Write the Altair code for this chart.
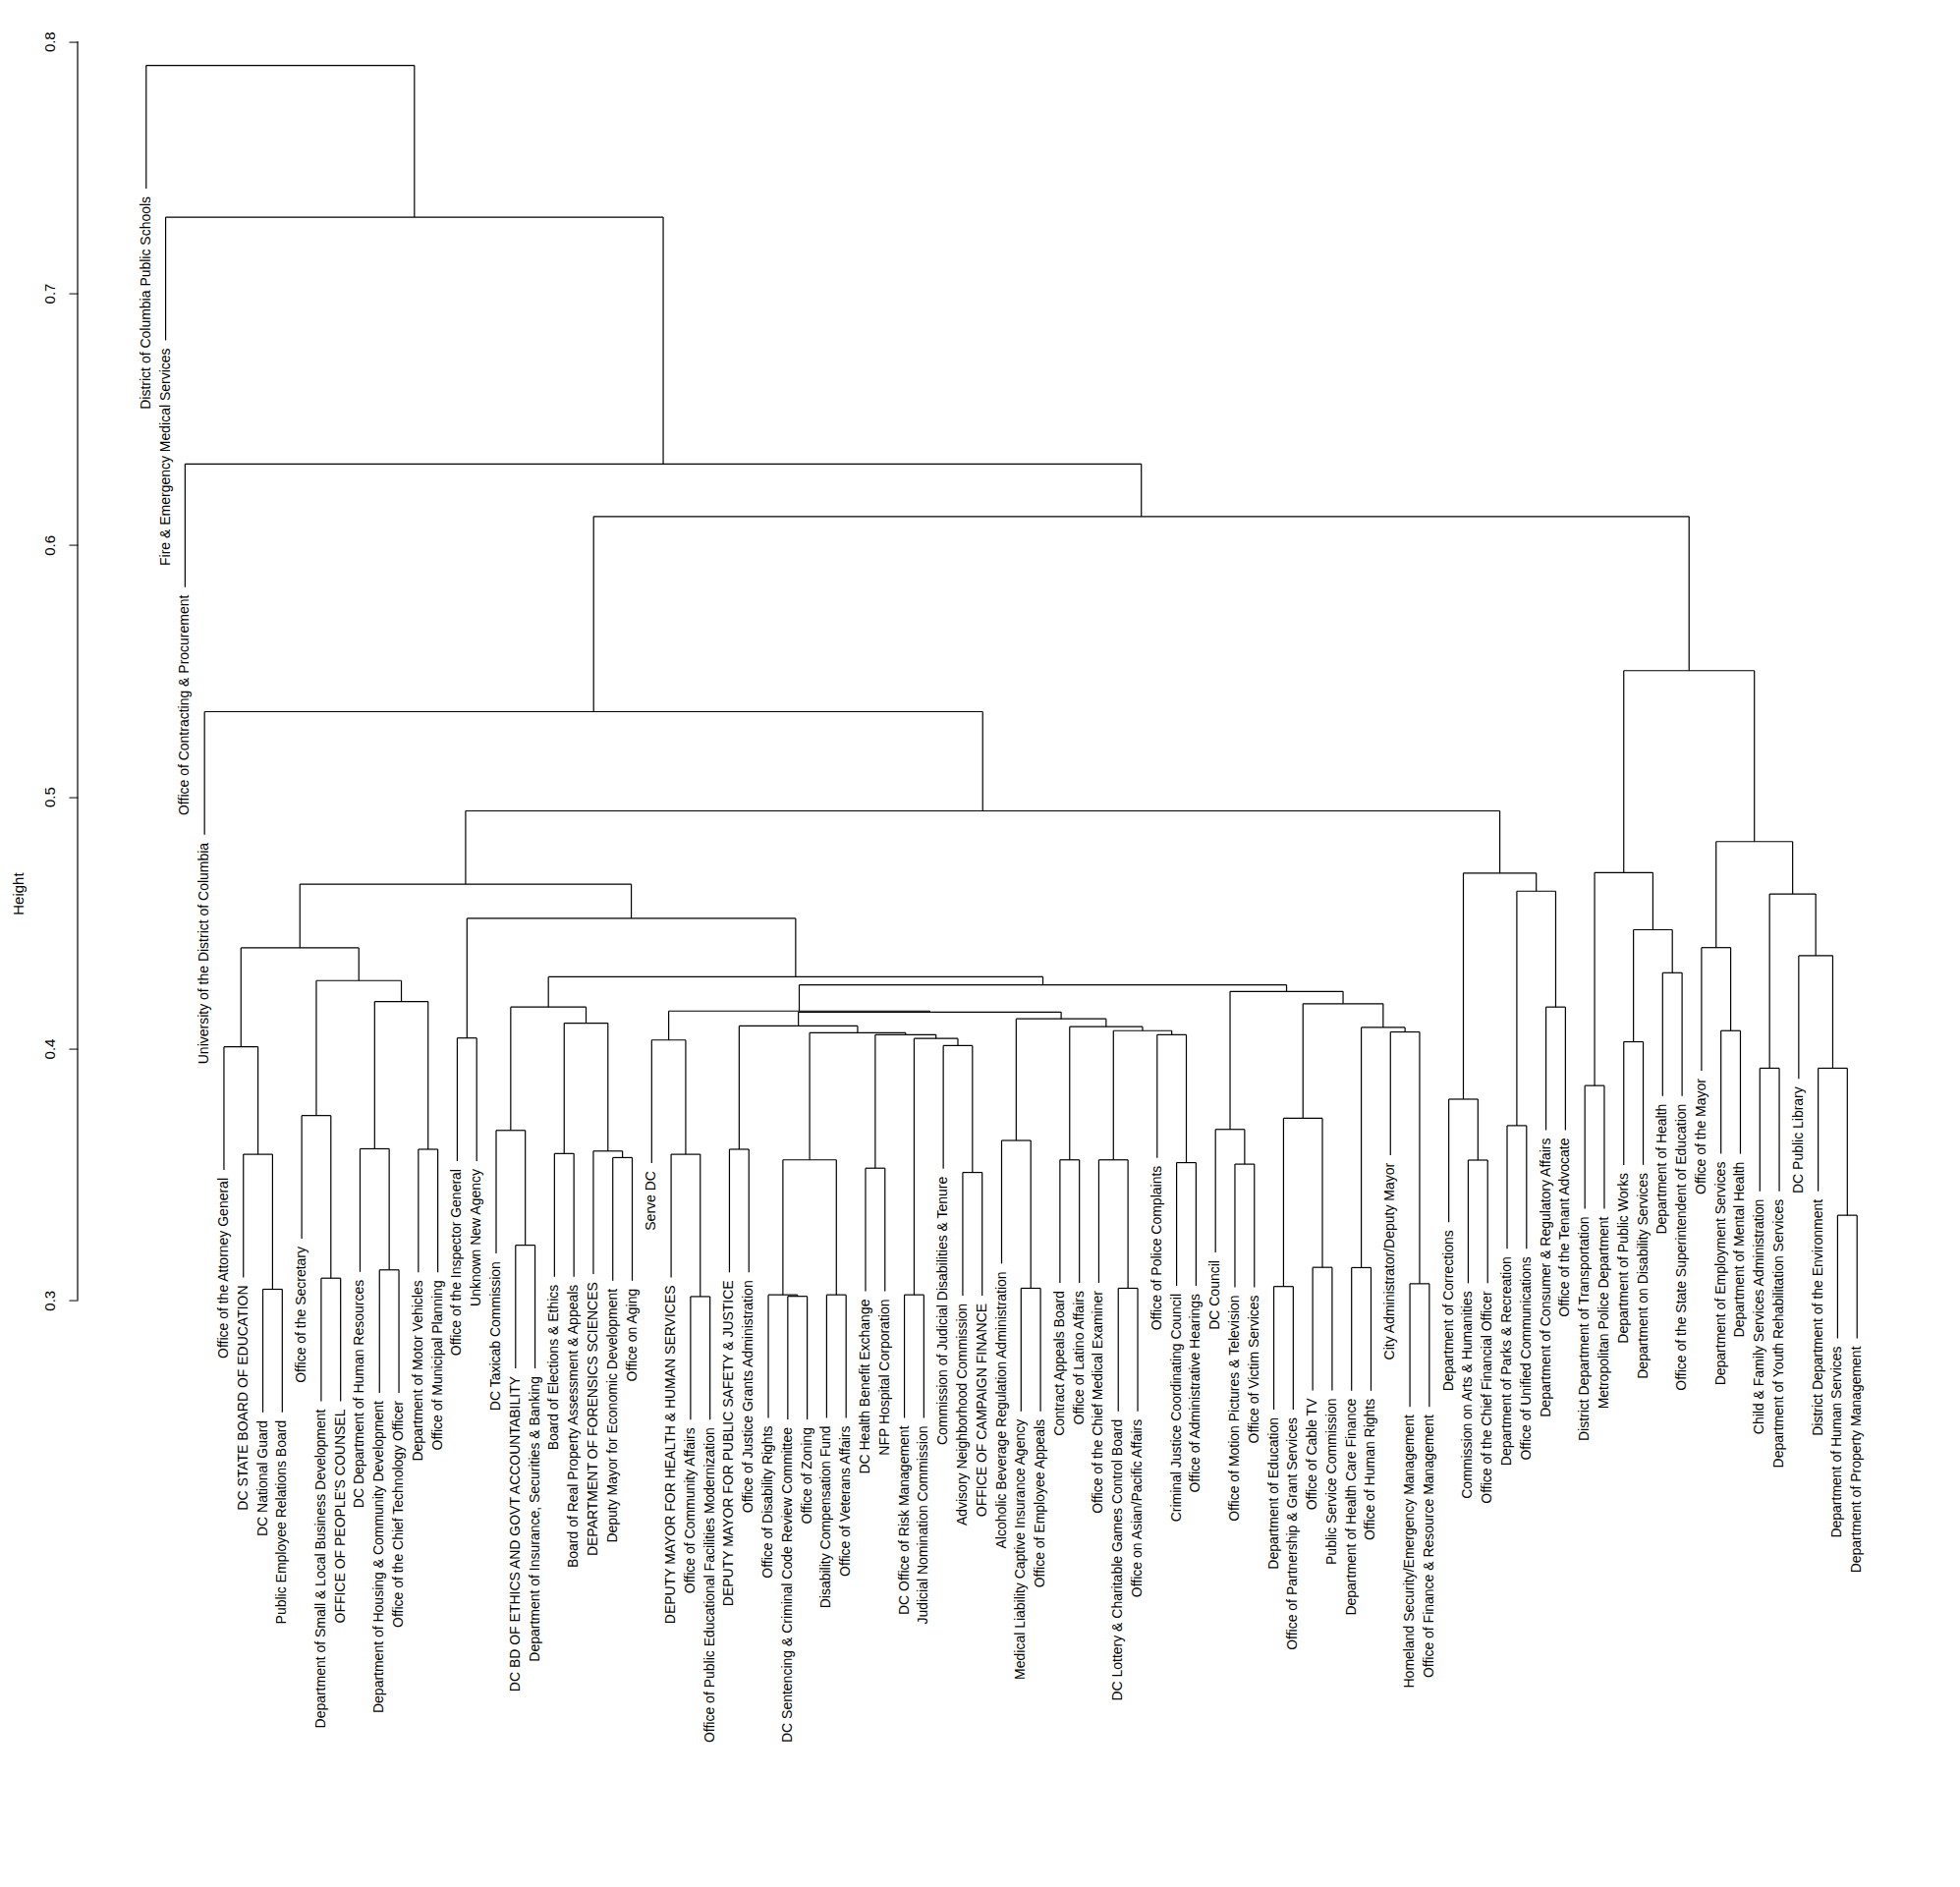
import altair as alt
import pandas as pd

# Leaf labels, left to right
labels = [
    "District of Columbia Public Schools",
    "Fire & Emergency Medical Services",
    "Office of Contracting & Procurement",
    "University of the District of Columbia",
    "Office of the Attorney General",
    "DC STATE BOARD OF EDUCATION",
    "DC National Guard",
    "Public Employee Relations Board",
    "Office of the Secretary",
    "Department of Small & Local Business Development",
    "OFFICE OF PEOPLE'S COUNSEL",
    "DC Department of Human Resources",
    "Department of Housing & Community Development",
    "Office of the Chief Technology Officer",
    "Department of Motor Vehicles",
    "Office of Municipal Planning",
    "Office of the Inspector General",
    "Unknown New Agency",
    "DC Taxicab Commission",
    "DC BD OF ETHICS AND GOVT ACCOUNTABILITY",
    "Department of Insurance, Securities & Banking",
    "Board of Elections & Ethics",
    "Board of Real Property Assessment & Appeals",
    "DEPARTMENT OF FORENSICS SCIENCES",
    "Deputy Mayor for Economic Development",
    "Office on Aging",
    "Serve DC",
    "DEPUTY MAYOR FOR HEALTH & HUMAN SERVICES",
    "Office of Community Affairs",
    "Office of Public Educational Facilities Modernization",
    "DEPUTY MAYOR FOR PUBLIC SAFETY & JUSTICE",
    "Office of Justice Grants Administration",
    "Office of Disability Rights",
    "DC Sentencing & Criminal Code Review Committee",
    "Office of Zoning",
    "Disability Compensation Fund",
    "Office of Veterans Affairs",
    "DC Health Benefit Exchange",
    "NFP Hospital Corporation",
    "DC Office of Risk Management",
    "Judicial Nomination Commission",
    "Commission of Judicial Disabilities & Tenure",
    "Advisory Neighborhood Commission",
    "OFFICE OF CAMPAIGN FINANCE",
    "Alcoholic Beverage Regulation Administration",
    "Medical Liability Captive Insurance Agency",
    "Office of Employee Appeals",
    "Contract Appeals Board",
    "Office of Latino Affairs",
    "Office of the Chief Medical Examiner",
    "DC Lottery & Charitable Games Control Board",
    "Office on Asian/Pacific Affairs",
    "Office of Police Complaints",
    "Criminal Justice Coordinating Council",
    "Office of Administrative Hearings",
    "DC Council",
    "Office of Motion Pictures & Television",
    "Office of Victim Services",
    "Department of Education",
    "Office of Partnership & Grant Services",
    "Office of Cable TV",
    "Public Service Commission",
    "Department of Health Care Finance",
    "Office of Human Rights",
    "City Administrator/Deputy Mayor",
    "Homeland Security/Emergency Management",
    "Office of Finance & Resource Management",
    "Department of Corrections",
    "Commission on Arts & Humanities",
    "Office of the Chief Financial Officer",
    "Department of Parks & Recreation",
    "Office of Unified Communications",
    "Department of Consumer & Regulatory Affairs",
    "Office of the Tenant Advocate",
    "District Department of Transportation",
    "Metropolitan Police Department",
    "Department of Public Works",
    "Department on Disability Services",
    "Department of Health",
    "Office of the State Superintendent of Education",
    "Office of the Mayor",
    "Department of Employment Services",
    "Department of Mental Health",
    "Child & Family Services Administration",
    "Department of  Youth Rehabilitation Services",
    "DC Public Library",
    "District Department of the Environment",
    "Department of Human Services",
    "Department of Property Management",
]

# hclust-style merges: negative = leaf number, positive = earlier merge number
merge_left = [
    -7, -6, -5, -10, -9, -13, -12, -15, 7, 5, 3,
    -17, -20, -19, -22, -25, -24, 15, 14, -29, -28, -27, -31,
    -34, -33, -36, 25, -38, -40, -43, -42, 29, 28, 27, 23,
    -46, -45, -48, -51, -50, -54, -53, 40, 38, 37, 35, 22,
    -57, -56, -59, -61, 50, -63, -66, -65, 53, 52, 49, 47, 19, 12, 11,
    -69, -68, -71, -73, 65, 64, 62, -4,
    -75, -77, -79, 72, 71, -82, -81, -84, -88, -87, -86, 78, 77, 75,
    70, -3, -2, -1,
]
merge_right = [
    -8, 1, 2, -11, 4, -14, 6, -16, 8, 9, 10,
    -18, -21, 13, -23, -26, 16, 17, 18, -30, 20, 21, -32,
    -35, 24, -37, 26, -39, -41, -44, 30, 31, 32, 33, 34,
    -47, 36, -49, -52, 39, -55, 41, 42, 43, 44, 45, 46,
    -58, 48, -60, -62, 51, -64, -67, 54, 55, 56, 57, 58, 59, 60, 61,
    -70, 63, -72, -74, 66, 67, 68, 69,
    -76, -78, -80, 73, 74, -83, 76, -85, -89, 79, 80, 81, 82, 83,
    84, 85, 86, 87,
]
merge_height = [
    0.3044, 0.3580, 0.4007, 0.3088, 0.3734, 0.3121, 0.3602, 0.3600, 0.4187, 0.4270, 0.4400,
    0.4042, 0.3219, 0.3675, 0.3583, 0.3567, 0.3593, 0.4101, 0.4165, 0.3015, 0.3580, 0.4034, 0.3600,
    0.3016, 0.3022, 0.3022, 0.3558, 0.3525, 0.3022, 0.3508, 0.4012, 0.4040, 0.4055, 0.4063, 0.4090,
    0.3048, 0.3635, 0.3558, 0.3048, 0.3558, 0.3547, 0.4055, 0.4071, 0.4087, 0.4118, 0.4145, 0.4149,
    0.3541, 0.3679, 0.3055, 0.3131, 0.3723, 0.3130, 0.3066, 0.4066, 0.4084, 0.4178, 0.4227, 0.4253, 0.4285, 0.4517, 0.4653,
    0.3557, 0.3799, 0.3694, 0.4165, 0.4625, 0.4697, 0.4944, 0.5338,
    0.3853, 0.4027, 0.4301, 0.4472, 0.4699, 0.4071, 0.4401, 0.3922, 0.3338, 0.3922, 0.4369, 0.4614, 0.4822, 0.5501,
    0.6113, 0.6322, 0.7302, 0.7905,
]
tick_values = [0.3, 0.4, 0.5, 0.6, 0.7, 0.8]

# ---- build dendrogram segments from the merge table ----
hang = 0.1 * (max(merge_height) - min(merge_height))
mx, mh = {}, {}
seg_rows, leaf_rows = [], []


def child(ref, parent_h):
    if ref < 0:
        i = -ref
        end = parent_h - hang
        leaf_rows.append({"pos": i, "h": end, "label": labels[i - 1]})
        return i, end
    return mx[ref], mh[ref]


for k, (a, b, hh) in enumerate(zip(merge_left, merge_right, merge_height), start=1):
    xa, ya = child(a, hh)
    xb, yb = child(b, hh)
    seg_rows.append({"x": xa, "x2": xa, "y": ya, "y2": hh})
    seg_rows.append({"x": xb, "x2": xb, "y": yb, "y2": hh})
    seg_rows.append({"x": xa, "x2": xb, "y": hh, "y2": hh})
    mx[k] = (xa + xb) / 2.0
    mh[k] = hh

segs = pd.DataFrame(seg_rows)
leaves = pd.DataFrame(leaf_rows)

FONT = "Liberation Sans"
xscale = alt.Scale(domain=[-2.527, 90], nice=False, zero=False)
yscale = alt.Scale(domain=[0.24, 0.81], nice=False, zero=False)

lines = alt.Chart(segs).mark_rule(color="black", strokeWidth=1.2).encode(
    x=alt.X("x:Q", scale=xscale, axis=None),
    x2="x2:Q",
    y=alt.Y(
        "y:Q",
        scale=yscale,
        axis=alt.Axis(
            title="Height",
            values=tick_values,
            format=".1f",
            domain=False,
            grid=False,
            ticks=True,
            tickSize=9,
            tickColor="black",
            labelAngle=270,
            labelAlign="center",
            labelBaseline="bottom",
            labelPadding=12,
            labelFont=FONT,
            labelFontSize=15,
            labelColor="black",
            titleFont=FONT,
            titleFontSize=15,
            titleFontWeight="normal",
            titleColor="black",
            titleAngle=270,
            titleAlign="center",
            titleBaseline="middle",
            titleX=-61,
            titleY=893,
        ),
    ),
    y2="y2:Q",
)

axis_line = alt.Chart(pd.DataFrame({"lo": [tick_values[0]], "hi": [tick_values[-1]]})).mark_rule(
    color="black", strokeWidth=1.2
).encode(
    x=alt.value(0),
    y=alt.Y("lo:Q", scale=yscale),
    y2="hi:Q",
)

texts = alt.Chart(leaves).mark_text(
    angle=270,
    align="right",
    baseline="middle",
    dx=-8,
    font=FONT,
    fontSize=14,
    color="black",
).encode(
    x=alt.X("pos:Q", scale=xscale),
    y=alt.Y("h:Q", scale=yscale),
    text="label:N",
)

chart = (
    alt.layer(lines, axis_line, texts)
    .properties(
        width=1831,
        height=1461,
        autosize=alt.AutoSizeParams(type="none"),
        padding={"left": 71, "top": 8.57, "right": 20, "bottom": 330},
        background="white",
    )
    .configure_view(stroke=None)
)

chart.save("out.html", embed_options={"renderer": "svg", "actions": False})
